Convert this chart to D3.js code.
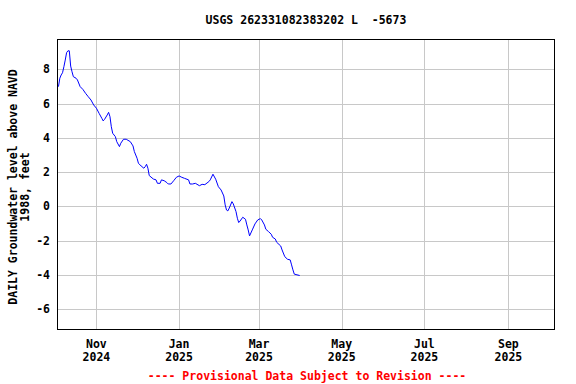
<!DOCTYPE html>
<html><head><meta charset="utf-8">
<script src="https://cdn.jsdelivr.net/npm/d3@7"></script>
<style>body{margin:0;background:#fff}</style>
</head><body>
<svg id="c" width="576" height="384"></svg>
<script>
const title = "USGS 262331082383202 L  -5673";
const yLabel1 = "DAILY Groundwater level above NAVD";
const yLabel2 = "1988, feet";
const footer = "---- Provisional Data Subject to Revision ----";
const yTicks = [-6, -4, -2, 0, 2, 4, 6, 8];
const xTicks = ["2024-11-01","2025-01-01","2025-03-01","2025-05-01","2025-07-01","2025-09-01"];
const dates = [
"2024-10-04","2024-10-05","2024-10-06","2024-10-07","2024-10-08","2024-10-09","2024-10-10","2024-10-11","2024-10-12","2024-10-13",
"2024-10-14","2024-10-15","2024-10-17","2024-10-18","2024-10-20","2024-10-22","2024-10-24","2024-10-26","2024-10-28","2024-10-30",
"2024-11-01","2024-11-03","2024-11-05","2024-11-06","2024-11-07","2024-11-09","2024-11-10","2024-11-11","2024-11-12","2024-11-13",
"2024-11-15","2024-11-16","2024-11-18","2024-11-19","2024-11-21","2024-11-23","2024-11-26","2024-11-28","2024-11-29","2024-12-01",
"2024-12-02","2024-12-04","2024-12-06","2024-12-07","2024-12-08","2024-12-09","2024-12-10","2024-12-13","2024-12-15","2024-12-16",
"2024-12-18","2024-12-19","2024-12-21","2024-12-23","2024-12-24","2024-12-26","2024-12-28","2024-12-30","2025-01-01","2025-01-03",
"2025-01-05","2025-01-08","2025-01-09","2025-01-11","2025-01-13","2025-01-16","2025-01-18","2025-01-20","2025-01-23","2025-01-24",
"2025-01-26","2025-01-28","2025-01-30","2025-02-01","2025-02-03","2025-02-04","2025-02-05","2025-02-06","2025-02-07","2025-02-09",
"2025-02-10","2025-02-12","2025-02-13","2025-02-14","2025-02-15","2025-02-17","2025-02-19","2025-02-20","2025-02-21","2025-02-22",
"2025-02-24","2025-02-26","2025-02-28","2025-03-02","2025-03-03","2025-03-05","2025-03-06","2025-03-08","2025-03-10","2025-03-11",
"2025-03-13","2025-03-14","2025-03-17","2025-03-18","2025-03-20","2025-03-22","2025-03-24","2025-03-25","2025-03-26","2025-03-27",
"2025-03-29","2025-03-31"];
const levels = [
6.99,7.48,7.67,7.80,8.15,8.54,8.97,9.08,9.08,8.19,
7.86,7.57,7.48,7.38,6.99,6.83,6.60,6.40,6.21,5.92,
5.73,5.43,5.14,4.99,5.08,5.34,5.49,5.24,4.65,4.27,
4.07,3.78,3.49,3.69,3.92,3.92,3.78,3.53,3.20,2.81,
2.52,2.36,2.23,2.32,2.46,2.23,1.80,1.60,1.55,1.35,
1.35,1.55,1.50,1.39,1.31,1.31,1.50,1.70,1.78,1.70,
1.64,1.55,1.31,1.31,1.35,1.21,1.29,1.27,1.45,1.55,
1.88,1.59,1.15,0.96,0.61,0.09,-0.21,-0.26,-0.10,0.28,
0.15,-0.30,-0.69,-0.94,-0.85,-0.63,-0.75,-1.08,-1.37,-1.72,
-1.37,-1.02,-0.79,-0.71,-0.79,-1.08,-1.33,-1.47,-1.62,-1.80,
-1.90,-2.09,-2.31,-2.54,-2.93,-3.08,-3.12,-3.41,-3.70,-3.95,
-3.99,-4.03];

const L = 57.5, R = 554.5, T = 39.5, B = 329.5;
const font = "'DejaVu Sans Mono', monospace";
const svg = d3.select("#c");

const x = d3.scaleUtc()
  .domain([new Date(Date.UTC(2024, 9, 3, 7)), new Date(Date.UTC(2025, 9, 5, 0))])
  .range([L, R]);
const y = d3.scaleLinear().domain([-7.18, 9.74]).range([B, T]);

// grid
const g = svg.append("g");
g.selectAll("line.h").data(yTicks).join("line")
  .attr("x1", L).attr("x2", R)
  .attr("y1", d => Math.round(y(d)) + 0.5).attr("y2", d => Math.round(y(d)) + 0.5)
  .attr("stroke", "#c8c8c8").attr("stroke-width", 1);
g.selectAll("line.v").data(xTicks).join("line")
  .attr("y1", T).attr("y2", B)
  .attr("x1", d => Math.round(x(new Date(d))) + 0.5).attr("x2", d => Math.round(x(new Date(d))) + 0.5)
  .attr("stroke", "#c8c8c8").attr("stroke-width", 1);

// data line
const data = dates.map((d, i) => ({ date: new Date(d), v: levels[i] }));
svg.append("path").datum(data)
  .attr("fill", "none").attr("stroke", "#0000ff").attr("stroke-width", 1)
  .attr("d", d3.line().x(d => x(d.date)).y(d => y(d.v)));

// frame
svg.append("rect").attr("x", L).attr("y", T).attr("width", R - L).attr("height", B - T)
  .attr("fill", "none").attr("stroke", "#000").attr("stroke-width", 1);

const txt = (sel) => sel.attr("font-family", font).attr("font-weight", "bold").attr("font-size", "11.5px").style("white-space", "pre");

// y tick labels
svg.append("g").selectAll("text").data(yTicks).join("text")
  .call(txt).attr("x", 50).attr("y", d => y(d)).attr("dy", "0.35em")
  .attr("text-anchor", "end").text(d => d);

// x tick labels
const fmtM = d3.utcFormat("%b"), fmtY = d3.utcFormat("%Y");
const xl = svg.append("g").selectAll("g").data(xTicks).join("g");
xl.append("text").call(txt).attr("x", d => x(new Date(d))).attr("y", 348)
  .attr("text-anchor", "middle").text(d => fmtM(new Date(d)));
xl.append("text").call(txt).attr("x", d => x(new Date(d))).attr("y", 361)
  .attr("text-anchor", "middle").text(d => fmtY(new Date(d)));

// title
svg.append("text").call(txt).attr("x", (L + R) / 2).attr("y", 24)
  .attr("text-anchor", "middle").text(title);

// y axis label
const yl = svg.append("g").attr("transform", "translate(0,187) rotate(-90)");
yl.append("text").call(txt).attr("x", 0).attr("y", 16.5).attr("text-anchor", "middle").text(yLabel1);
yl.append("text").call(txt).attr("x", 0).attr("y", 29).attr("text-anchor", "middle").text(yLabel2);

// footer
svg.append("text").call(txt).attr("x", (L + R) / 2 + 1).attr("y", 380)
  .attr("text-anchor", "middle").attr("fill", "#ff0000").text(footer);
</script>
</body></html>
